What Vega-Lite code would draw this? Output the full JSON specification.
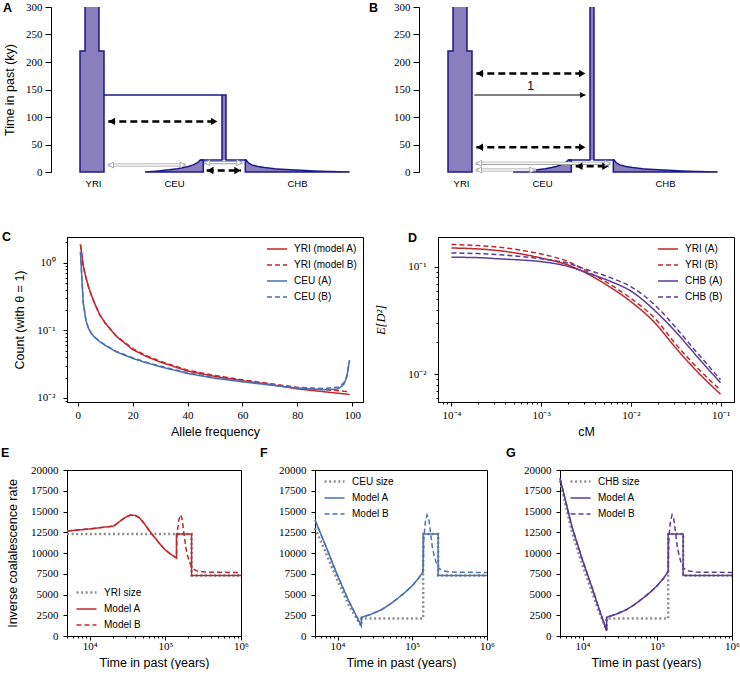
{
  "$schema": "https://vega.github.io/schema/vega-lite/v6.json",
  "background": "white",
  "padding": {"left": 0, "top": 1, "right": 0, "bottom": 0},
  "spacing": 42,
  "config": {
    "font": "Liberation Sans",
    "view": {"stroke": "black", "strokeWidth": 1},
    "axis": {"grid": false, "domainColor": "black", "tickColor": "black", "labelFont": "Liberation Serif", "labelFontSize": 11, "labelColor": "black", "titleFont": "Liberation Sans", "titleFontSize": 12.5, "titleFontWeight": "normal", "titleColor": "black", "tickSize": 4, "labelPadding": 4, "labelFlush": false, "labelOverlap": false, "labelBound": false},
    "legend": {"labelFont": "Liberation Sans", "labelFontSize": 10, "labelColor": "black", "symbolType": "stroke", "symbolSize": 400, "symbolStrokeWidth": 1.6, "rowPadding": -2.7, "labelOffset": 6, "padding": 0},
    "title": {"font": "Liberation Sans", "fontSize": 12.5, "fontWeight": "bold", "anchor": "start", "frame": "group", "color": "black"}
  },
  "resolve": {"scale": {"color": "independent", "strokeDash": "independent", "strokeWidth": "independent", "shape": "independent"}},
  "datasets": {
    "blocks": [
      {"panel": "both", "x0": 29, "x1": 53, "y0": 0, "y1": 220},
      {"panel": "both", "x0": 34, "x1": 48, "y0": 220, "y1": 300},
      {"panel": "A", "x0": 171, "x1": 175, "y0": 22, "y1": 140},
      {"panel": "B", "x0": 171, "x1": 175, "y0": 22, "y1": 300}
    ],
    "pops": [
      {"pop": "CEU", "t": 0, "xl": 94.0, "xr": 152.3},
      {"pop": "CEU", "t": 1, "xl": 101.4, "xr": 152.3},
      {"pop": "CEU", "t": 2, "xl": 107.8, "xr": 152.3},
      {"pop": "CEU", "t": 3, "xl": 113.4, "xr": 152.3},
      {"pop": "CEU", "t": 4, "xl": 118.3, "xr": 152.3},
      {"pop": "CEU", "t": 6, "xl": 126.4, "xr": 152.3},
      {"pop": "CEU", "t": 8, "xl": 132.5, "xr": 152.3},
      {"pop": "CEU", "t": 10, "xl": 137.2, "xr": 152.3},
      {"pop": "CEU", "t": 13, "xl": 142.2, "xr": 152.3},
      {"pop": "CEU", "t": 16, "xl": 145.6, "xr": 152.3},
      {"pop": "CEU", "t": 19, "xl": 147.8, "xr": 152.3},
      {"pop": "CEU", "t": 22, "xl": 149.3, "xr": 152.3},
      {"pop": "CHB", "t": 0, "xl": 194.3, "xr": 298.7},
      {"pop": "CHB", "t": 0.5, "xl": 194.3, "xr": 288.2},
      {"pop": "CHB", "t": 1, "xl": 194.3, "xr": 278.9},
      {"pop": "CHB", "t": 1.5, "xl": 194.3, "xr": 270.4},
      {"pop": "CHB", "t": 2, "xl": 194.3, "xr": 262.8},
      {"pop": "CHB", "t": 3, "xl": 194.3, "xr": 249.7},
      {"pop": "CHB", "t": 4, "xl": 194.3, "xr": 239.2},
      {"pop": "CHB", "t": 5, "xl": 194.3, "xr": 230.6},
      {"pop": "CHB", "t": 6, "xl": 194.3, "xr": 223.7},
      {"pop": "CHB", "t": 8, "xl": 194.3, "xr": 213.6},
      {"pop": "CHB", "t": 10, "xl": 194.3, "xr": 206.9},
      {"pop": "CHB", "t": 13, "xl": 194.3, "xr": 201.0},
      {"pop": "CHB", "t": 16, "xl": 194.3, "xr": 197.8},
      {"pop": "CHB", "t": 19, "xl": 194.3, "xr": 196.2},
      {"pop": "CHB", "t": 22, "xl": 194.3, "xr": 195.3}
    ],
    "outline": [
      {"panel": "both", "path": "yri", "i": 0, "x": 48, "y": 300},
      {"panel": "both", "path": "yri", "i": 1, "x": 48, "y": 220},
      {"panel": "both", "path": "yri", "i": 2, "x": 53, "y": 220},
      {"panel": "both", "path": "yri", "i": 3, "x": 53, "y": 0},
      {"panel": "both", "path": "yri", "i": 4, "x": 29, "y": 0},
      {"panel": "both", "path": "yri", "i": 5, "x": 29, "y": 220},
      {"panel": "both", "path": "yri", "i": 6, "x": 34, "y": 220},
      {"panel": "both", "path": "yri", "i": 7, "x": 34, "y": 300},
      {"panel": "A", "path": "Abranch", "i": 0, "x": 53, "y": 140},
      {"panel": "A", "path": "Abranch", "i": 1, "x": 175, "y": 140},
      {"panel": "A", "path": "Abranch", "i": 2, "x": 175, "y": 22},
      {"panel": "A", "path": "Abranch", "i": 3, "x": 195.3, "y": 22},
      {"panel": "A", "path": "AcolL", "i": 0, "x": 171, "y": 140},
      {"panel": "A", "path": "AcolL", "i": 1, "x": 171, "y": 22},
      {"panel": "A", "path": "AcolL", "i": 2, "x": 149.3, "y": 22},
      {"panel": "B", "path": "Bbranch", "i": 0, "x": 175, "y": 300},
      {"panel": "B", "path": "Bbranch", "i": 1, "x": 175, "y": 22},
      {"panel": "B", "path": "Bbranch", "i": 2, "x": 195.3, "y": 22},
      {"panel": "B", "path": "BcolL", "i": 0, "x": 171, "y": 300},
      {"panel": "B", "path": "BcolL", "i": 1, "x": 171, "y": 22},
      {"panel": "B", "path": "BcolL", "i": 2, "x": 149.3, "y": 22}
    ],
    "arrows": [
      {"panel": "A", "kind": "black", "y": 92, "xa": 57.3, "xb": 166.7},
      {"panel": "A", "kind": "grey", "y": 12.7, "xa": 56.7, "xb": 135},
      {"panel": "A", "kind": "black", "y": 2.7, "xa": 155.7, "xb": 190},
      {"panel": "A", "kind": "grey", "y": 17, "xa": 153, "xb": 191.7},
      {"panel": "B", "kind": "black", "y": 179, "xa": 57.3, "xb": 166.7},
      {"panel": "B", "kind": "solid", "y": 140, "xa": 55.3, "xb": 166.7},
      {"panel": "B", "kind": "black", "y": 45, "xa": 57.3, "xb": 166.7},
      {"panel": "B", "kind": "grey", "y": 15.8, "xa": 56.7, "xb": 191.7},
      {"panel": "B", "kind": "grey", "y": 3.6, "xa": 56.7, "xb": 116.7},
      {"panel": "B", "kind": "black", "y": 10.5, "xa": 156.7, "xb": 190}
    ],
    "heads": [
      {"panel": "A", "kind": "black", "y": 92, "x": 60.8, "dir": "left"},
      {"panel": "A", "kind": "black", "y": 92, "x": 163.2, "dir": "right"},
      {"panel": "A", "kind": "grey", "y": 12.7, "x": 60, "dir": "left"},
      {"panel": "A", "kind": "grey", "y": 12.7, "x": 131.7, "dir": "right"},
      {"panel": "A", "kind": "black", "y": 2.7, "x": 159.2, "dir": "left"},
      {"panel": "A", "kind": "black", "y": 2.7, "x": 186.5, "dir": "right"},
      {"panel": "A", "kind": "grey", "y": 17, "x": 156.3, "dir": "left"},
      {"panel": "A", "kind": "grey", "y": 17, "x": 188.4, "dir": "right"},
      {"panel": "B", "kind": "black", "y": 179, "x": 60.8, "dir": "left"},
      {"panel": "B", "kind": "black", "y": 179, "x": 163.2, "dir": "right"},
      {"panel": "B", "kind": "solid", "y": 140, "x": 163.7, "dir": "right"},
      {"panel": "B", "kind": "black", "y": 45, "x": 60.8, "dir": "left"},
      {"panel": "B", "kind": "black", "y": 45, "x": 163.2, "dir": "right"},
      {"panel": "B", "kind": "grey", "y": 15.8, "x": 60, "dir": "left"},
      {"panel": "B", "kind": "grey", "y": 15.8, "x": 188.4, "dir": "right"},
      {"panel": "B", "kind": "grey", "y": 3.6, "x": 60, "dir": "left"},
      {"panel": "B", "kind": "grey", "y": 3.6, "x": 113.4, "dir": "right"},
      {"panel": "B", "kind": "black", "y": 10.5, "x": 160.2, "dir": "left"},
      {"panel": "B", "kind": "black", "y": 10.5, "x": 186.5, "dir": "right"}
    ],
    "notes": [
      {"panel": "B", "x": 111.7, "y": 156, "text": "1"}
    ],
    "sfs": [
      {"s": "YRI (model A)", "f": 1, "c": 1.86}, {"s": "YRI (model A)", "f": 2, "c": 0.9}, {"s": "YRI (model A)", "f": 3, "c": 0.6}, {"s": "YRI (model A)", "f": 4, "c": 0.43}, {"s": "YRI (model A)", "f": 5, "c": 0.33}, {"s": "YRI (model A)", "f": 6, "c": 0.26}, {"s": "YRI (model A)", "f": 8, "c": 0.17}, {"s": "YRI (model A)", "f": 10, "c": 0.128}, {"s": "YRI (model A)", "f": 14, "c": 0.082}, {"s": "YRI (model A)", "f": 20, "c": 0.052}, {"s": "YRI (model A)", "f": 25, "c": 0.041}, {"s": "YRI (model A)", "f": 30, "c": 0.034}, {"s": "YRI (model A)", "f": 40, "c": 0.025}, {"s": "YRI (model A)", "f": 50, "c": 0.0208}, {"s": "YRI (model A)", "f": 60, "c": 0.018}, {"s": "YRI (model A)", "f": 70, "c": 0.0158}, {"s": "YRI (model A)", "f": 80, "c": 0.0136}, {"s": "YRI (model A)", "f": 90, "c": 0.0123}, {"s": "YRI (model A)", "f": 95, "c": 0.0117}, {"s": "YRI (model A)", "f": 97, "c": 0.0115}, {"s": "YRI (model A)", "f": 98, "c": 0.0114}, {"s": "YRI (model A)", "f": 99, "c": 0.0112},
      {"s": "YRI (model B)", "f": 1, "c": 1.86}, {"s": "YRI (model B)", "f": 2, "c": 0.9}, {"s": "YRI (model B)", "f": 3, "c": 0.6}, {"s": "YRI (model B)", "f": 4, "c": 0.43}, {"s": "YRI (model B)", "f": 5, "c": 0.33}, {"s": "YRI (model B)", "f": 6, "c": 0.26}, {"s": "YRI (model B)", "f": 8, "c": 0.17}, {"s": "YRI (model B)", "f": 10, "c": 0.129}, {"s": "YRI (model B)", "f": 14, "c": 0.083}, {"s": "YRI (model B)", "f": 20, "c": 0.0536}, {"s": "YRI (model B)", "f": 25, "c": 0.0422}, {"s": "YRI (model B)", "f": 30, "c": 0.035}, {"s": "YRI (model B)", "f": 40, "c": 0.0258}, {"s": "YRI (model B)", "f": 50, "c": 0.0214}, {"s": "YRI (model B)", "f": 60, "c": 0.0185}, {"s": "YRI (model B)", "f": 70, "c": 0.0163}, {"s": "YRI (model B)", "f": 80, "c": 0.0143}, {"s": "YRI (model B)", "f": 90, "c": 0.0132}, {"s": "YRI (model B)", "f": 95, "c": 0.0128}, {"s": "YRI (model B)", "f": 97, "c": 0.0125}, {"s": "YRI (model B)", "f": 98, "c": 0.0124}, {"s": "YRI (model B)", "f": 99, "c": 0.0122},
      {"s": "CEU (A)", "f": 1, "c": 1.45}, {"s": "CEU (A)", "f": 2, "c": 0.26}, {"s": "CEU (A)", "f": 3, "c": 0.14}, {"s": "CEU (A)", "f": 4, "c": 0.105}, {"s": "CEU (A)", "f": 5, "c": 0.09}, {"s": "CEU (A)", "f": 6, "c": 0.08}, {"s": "CEU (A)", "f": 8, "c": 0.068}, {"s": "CEU (A)", "f": 10, "c": 0.06}, {"s": "CEU (A)", "f": 14, "c": 0.048}, {"s": "CEU (A)", "f": 20, "c": 0.0385}, {"s": "CEU (A)", "f": 25, "c": 0.033}, {"s": "CEU (A)", "f": 30, "c": 0.029}, {"s": "CEU (A)", "f": 40, "c": 0.023}, {"s": "CEU (A)", "f": 50, "c": 0.0195}, {"s": "CEU (A)", "f": 60, "c": 0.0173}, {"s": "CEU (A)", "f": 70, "c": 0.0155}, {"s": "CEU (A)", "f": 80, "c": 0.014}, {"s": "CEU (A)", "f": 90, "c": 0.0132}, {"s": "CEU (A)", "f": 95, "c": 0.0136}, {"s": "CEU (A)", "f": 97, "c": 0.016}, {"s": "CEU (A)", "f": 98, "c": 0.0205}, {"s": "CEU (A)", "f": 99, "c": 0.036},
      {"s": "CEU (B)", "f": 1, "c": 1.45}, {"s": "CEU (B)", "f": 2, "c": 0.26}, {"s": "CEU (B)", "f": 3, "c": 0.14}, {"s": "CEU (B)", "f": 4, "c": 0.105}, {"s": "CEU (B)", "f": 5, "c": 0.09}, {"s": "CEU (B)", "f": 6, "c": 0.08}, {"s": "CEU (B)", "f": 8, "c": 0.069}, {"s": "CEU (B)", "f": 10, "c": 0.061}, {"s": "CEU (B)", "f": 14, "c": 0.049}, {"s": "CEU (B)", "f": 20, "c": 0.0393}, {"s": "CEU (B)", "f": 25, "c": 0.0337}, {"s": "CEU (B)", "f": 30, "c": 0.0296}, {"s": "CEU (B)", "f": 40, "c": 0.0235}, {"s": "CEU (B)", "f": 50, "c": 0.0199}, {"s": "CEU (B)", "f": 60, "c": 0.0176}, {"s": "CEU (B)", "f": 70, "c": 0.0158}, {"s": "CEU (B)", "f": 80, "c": 0.0143}, {"s": "CEU (B)", "f": 90, "c": 0.0138}, {"s": "CEU (B)", "f": 95, "c": 0.0145}, {"s": "CEU (B)", "f": 97, "c": 0.0168}, {"s": "CEU (B)", "f": 98, "c": 0.021}, {"s": "CEU (B)", "f": 99, "c": 0.036}
    ],
    "ld": [
      {"s": "YRI (A)", "cm": 0.0001, "d": 0.15}, {"s": "YRI (A)", "cm": 0.0002, "d": 0.147}, {"s": "YRI (A)", "cm": 0.00033, "d": 0.142}, {"s": "YRI (A)", "cm": 0.0006, "d": 0.132}, {"s": "YRI (A)", "cm": 0.001, "d": 0.121}, {"s": "YRI (A)", "cm": 0.002, "d": 0.104}, {"s": "YRI (A)", "cm": 0.0034, "d": 0.085}, {"s": "YRI (A)", "cm": 0.006, "d": 0.064}, {"s": "YRI (A)", "cm": 0.01, "d": 0.0475}, {"s": "YRI (A)", "cm": 0.0186, "d": 0.03}, {"s": "YRI (A)", "cm": 0.0316, "d": 0.0176}, {"s": "YRI (A)", "cm": 0.056, "d": 0.0104}, {"s": "YRI (A)", "cm": 0.1, "d": 0.0065},
      {"s": "YRI (B)", "cm": 0.0001, "d": 0.162}, {"s": "YRI (B)", "cm": 0.0002, "d": 0.158}, {"s": "YRI (B)", "cm": 0.00033, "d": 0.153}, {"s": "YRI (B)", "cm": 0.0006, "d": 0.143}, {"s": "YRI (B)", "cm": 0.001, "d": 0.132}, {"s": "YRI (B)", "cm": 0.002, "d": 0.112}, {"s": "YRI (B)", "cm": 0.0034, "d": 0.089}, {"s": "YRI (B)", "cm": 0.006, "d": 0.068}, {"s": "YRI (B)", "cm": 0.01, "d": 0.051}, {"s": "YRI (B)", "cm": 0.0186, "d": 0.033}, {"s": "YRI (B)", "cm": 0.0316, "d": 0.0191}, {"s": "YRI (B)", "cm": 0.056, "d": 0.0113}, {"s": "YRI (B)", "cm": 0.1, "d": 0.0071},
      {"s": "CHB (A)", "cm": 0.0001, "d": 0.123}, {"s": "CHB (A)", "cm": 0.0002, "d": 0.122}, {"s": "CHB (A)", "cm": 0.00033, "d": 0.119}, {"s": "CHB (A)", "cm": 0.0006, "d": 0.116}, {"s": "CHB (A)", "cm": 0.001, "d": 0.112}, {"s": "CHB (A)", "cm": 0.002, "d": 0.101}, {"s": "CHB (A)", "cm": 0.0034, "d": 0.087}, {"s": "CHB (A)", "cm": 0.006, "d": 0.073}, {"s": "CHB (A)", "cm": 0.01, "d": 0.0596}, {"s": "CHB (A)", "cm": 0.0186, "d": 0.039}, {"s": "CHB (A)", "cm": 0.0316, "d": 0.0248}, {"s": "CHB (A)", "cm": 0.056, "d": 0.0143}, {"s": "CHB (A)", "cm": 0.1, "d": 0.0083},
      {"s": "CHB (B)", "cm": 0.0001, "d": 0.135}, {"s": "CHB (B)", "cm": 0.0002, "d": 0.133}, {"s": "CHB (B)", "cm": 0.00033, "d": 0.13}, {"s": "CHB (B)", "cm": 0.0006, "d": 0.125}, {"s": "CHB (B)", "cm": 0.001, "d": 0.119}, {"s": "CHB (B)", "cm": 0.002, "d": 0.108}, {"s": "CHB (B)", "cm": 0.0034, "d": 0.093}, {"s": "CHB (B)", "cm": 0.006, "d": 0.079}, {"s": "CHB (B)", "cm": 0.01, "d": 0.0654}, {"s": "CHB (B)", "cm": 0.0186, "d": 0.044}, {"s": "CHB (B)", "cm": 0.0316, "d": 0.0272}, {"s": "CHB (B)", "cm": 0.056, "d": 0.0155}, {"s": "CHB (B)", "cm": 0.1, "d": 0.0089}
    ],
    "icr": [
      {"p": "E", "s": "YRI size", "i": 0, "t": 5000, "v": 12300}, {"p": "E", "s": "YRI size", "i": 1, "t": 222000, "v": 12300}, {"p": "E", "s": "YRI size", "i": 2, "t": 222000, "v": 7300}, {"p": "E", "s": "YRI size", "i": 3, "t": 1000000, "v": 7300},
      {"p": "E", "s": "Model A", "i": 0, "t": 5000, "v": 12650}, {"p": "E", "s": "Model A", "i": 1, "t": 10000, "v": 12900}, {"p": "E", "s": "Model A", "i": 2, "t": 20800, "v": 13250}, {"p": "E", "s": "Model A", "i": 3, "t": 24000, "v": 13700}, {"p": "E", "s": "Model A", "i": 4, "t": 27000, "v": 14050}, {"p": "E", "s": "Model A", "i": 5, "t": 31000, "v": 14400}, {"p": "E", "s": "Model A", "i": 6, "t": 35000, "v": 14580}, {"p": "E", "s": "Model A", "i": 7, "t": 40000, "v": 14520}, {"p": "E", "s": "Model A", "i": 8, "t": 44600, "v": 14300}, {"p": "E", "s": "Model A", "i": 9, "t": 52000, "v": 13600}, {"p": "E", "s": "Model A", "i": 10, "t": 60500, "v": 12770}, {"p": "E", "s": "Model A", "i": 11, "t": 70000, "v": 12000}, {"p": "E", "s": "Model A", "i": 12, "t": 78000, "v": 11490}, {"p": "E", "s": "Model A", "i": 13, "t": 90000, "v": 10800}, {"p": "E", "s": "Model A", "i": 14, "t": 100000, "v": 10360}, {"p": "E", "s": "Model A", "i": 15, "t": 120000, "v": 9800}, {"p": "E", "s": "Model A", "i": 16, "t": 140000, "v": 9400}, {"p": "E", "s": "Model A", "i": 17, "t": 140000, "v": 12300}, {"p": "E", "s": "Model A", "i": 18, "t": 222000, "v": 12300}, {"p": "E", "s": "Model A", "i": 19, "t": 222000, "v": 7300}, {"p": "E", "s": "Model A", "i": 20, "t": 1000000, "v": 7300},
      {"p": "E", "s": "Model B", "i": 0, "t": 5000, "v": 12650}, {"p": "E", "s": "Model B", "i": 1, "t": 10000, "v": 12900}, {"p": "E", "s": "Model B", "i": 2, "t": 20800, "v": 13250}, {"p": "E", "s": "Model B", "i": 3, "t": 24000, "v": 13700}, {"p": "E", "s": "Model B", "i": 4, "t": 27000, "v": 14050}, {"p": "E", "s": "Model B", "i": 5, "t": 31000, "v": 14400}, {"p": "E", "s": "Model B", "i": 6, "t": 35000, "v": 14580}, {"p": "E", "s": "Model B", "i": 7, "t": 40000, "v": 14520}, {"p": "E", "s": "Model B", "i": 8, "t": 44600, "v": 14300}, {"p": "E", "s": "Model B", "i": 9, "t": 52000, "v": 13600}, {"p": "E", "s": "Model B", "i": 10, "t": 60500, "v": 12770}, {"p": "E", "s": "Model B", "i": 11, "t": 70000, "v": 12000}, {"p": "E", "s": "Model B", "i": 12, "t": 78000, "v": 11490}, {"p": "E", "s": "Model B", "i": 13, "t": 90000, "v": 10800}, {"p": "E", "s": "Model B", "i": 14, "t": 100000, "v": 10360}, {"p": "E", "s": "Model B", "i": 15, "t": 120000, "v": 9800}, {"p": "E", "s": "Model B", "i": 16, "t": 140000, "v": 9400}, {"p": "E", "s": "Model B", "i": 17, "t": 143000, "v": 12400}, {"p": "E", "s": "Model B", "i": 18, "t": 150000, "v": 13900}, {"p": "E", "s": "Model B", "i": 19, "t": 158000, "v": 14600}, {"p": "E", "s": "Model B", "i": 20, "t": 166000, "v": 14200}, {"p": "E", "s": "Model B", "i": 21, "t": 176000, "v": 12400}, {"p": "E", "s": "Model B", "i": 22, "t": 185000, "v": 10800}, {"p": "E", "s": "Model B", "i": 23, "t": 196000, "v": 9700}, {"p": "E", "s": "Model B", "i": 24, "t": 207000, "v": 8950}, {"p": "E", "s": "Model B", "i": 25, "t": 227000, "v": 8150}, {"p": "E", "s": "Model B", "i": 26, "t": 264000, "v": 7830}, {"p": "E", "s": "Model B", "i": 27, "t": 330000, "v": 7700}, {"p": "E", "s": "Model B", "i": 28, "t": 1000000, "v": 7650},
      {"p": "F", "s": "CEU size", "i": 0, "t": 5000, "v": 13000}, {"p": "F", "s": "CEU size", "i": 1, "t": 7000, "v": 10000}, {"p": "F", "s": "CEU size", "i": 2, "t": 10000, "v": 6700}, {"p": "F", "s": "CEU size", "i": 3, "t": 14000, "v": 3800}, {"p": "F", "s": "CEU size", "i": 4, "t": 17000, "v": 2500}, {"p": "F", "s": "CEU size", "i": 5, "t": 20800, "v": 1200}, {"p": "F", "s": "CEU size", "i": 6, "t": 20800, "v": 2100}, {"p": "F", "s": "CEU size", "i": 7, "t": 140000, "v": 2100}, {"p": "F", "s": "CEU size", "i": 8, "t": 140000, "v": 12300}, {"p": "F", "s": "CEU size", "i": 9, "t": 222000, "v": 12300}, {"p": "F", "s": "CEU size", "i": 10, "t": 222000, "v": 7300}, {"p": "F", "s": "CEU size", "i": 11, "t": 1000000, "v": 7300},
      {"p": "F", "s": "Model A", "i": 0, "t": 5000, "v": 13980}, {"p": "F", "s": "Model A", "i": 1, "t": 7000, "v": 10800}, {"p": "F", "s": "Model A", "i": 2, "t": 10000, "v": 7300}, {"p": "F", "s": "Model A", "i": 3, "t": 14000, "v": 4300}, {"p": "F", "s": "Model A", "i": 4, "t": 17000, "v": 2800}, {"p": "F", "s": "Model A", "i": 5, "t": 20800, "v": 1250}, {"p": "F", "s": "Model A", "i": 6, "t": 21000, "v": 2250}, {"p": "F", "s": "Model A", "i": 7, "t": 28000, "v": 2620}, {"p": "F", "s": "Model A", "i": 8, "t": 38000, "v": 3130}, {"p": "F", "s": "Model A", "i": 9, "t": 50000, "v": 3800}, {"p": "F", "s": "Model A", "i": 10, "t": 64000, "v": 4540}, {"p": "F", "s": "Model A", "i": 11, "t": 80000, "v": 5250}, {"p": "F", "s": "Model A", "i": 12, "t": 100000, "v": 6060}, {"p": "F", "s": "Model A", "i": 13, "t": 120000, "v": 6900}, {"p": "F", "s": "Model A", "i": 14, "t": 140000, "v": 7750}, {"p": "F", "s": "Model A", "i": 15, "t": 140000, "v": 12300}, {"p": "F", "s": "Model A", "i": 16, "t": 222000, "v": 12300}, {"p": "F", "s": "Model A", "i": 17, "t": 222000, "v": 7300}, {"p": "F", "s": "Model A", "i": 18, "t": 1000000, "v": 7300},
      {"p": "F", "s": "Model B", "i": 0, "t": 5000, "v": 13980}, {"p": "F", "s": "Model B", "i": 1, "t": 7000, "v": 10800}, {"p": "F", "s": "Model B", "i": 2, "t": 10000, "v": 7300}, {"p": "F", "s": "Model B", "i": 3, "t": 14000, "v": 4300}, {"p": "F", "s": "Model B", "i": 4, "t": 17000, "v": 2800}, {"p": "F", "s": "Model B", "i": 5, "t": 20800, "v": 1250}, {"p": "F", "s": "Model B", "i": 6, "t": 21000, "v": 2250}, {"p": "F", "s": "Model B", "i": 7, "t": 28000, "v": 2620}, {"p": "F", "s": "Model B", "i": 8, "t": 38000, "v": 3130}, {"p": "F", "s": "Model B", "i": 9, "t": 50000, "v": 3800}, {"p": "F", "s": "Model B", "i": 10, "t": 64000, "v": 4540}, {"p": "F", "s": "Model B", "i": 11, "t": 80000, "v": 5250}, {"p": "F", "s": "Model B", "i": 12, "t": 100000, "v": 6060}, {"p": "F", "s": "Model B", "i": 13, "t": 120000, "v": 6900}, {"p": "F", "s": "Model B", "i": 14, "t": 140000, "v": 7750}, {"p": "F", "s": "Model B", "i": 15, "t": 143000, "v": 11800}, {"p": "F", "s": "Model B", "i": 16, "t": 150000, "v": 13800}, {"p": "F", "s": "Model B", "i": 17, "t": 158000, "v": 14600}, {"p": "F", "s": "Model B", "i": 18, "t": 166000, "v": 14200}, {"p": "F", "s": "Model B", "i": 19, "t": 176000, "v": 12400}, {"p": "F", "s": "Model B", "i": 20, "t": 185000, "v": 10800}, {"p": "F", "s": "Model B", "i": 21, "t": 196000, "v": 9700}, {"p": "F", "s": "Model B", "i": 22, "t": 207000, "v": 8950}, {"p": "F", "s": "Model B", "i": 23, "t": 227000, "v": 8150}, {"p": "F", "s": "Model B", "i": 24, "t": 264000, "v": 7830}, {"p": "F", "s": "Model B", "i": 25, "t": 330000, "v": 7700}, {"p": "F", "s": "Model B", "i": 26, "t": 1000000, "v": 7650},
      {"p": "G", "s": "CHB size", "i": 0, "t": 5000, "v": 18700}, {"p": "G", "s": "CHB size", "i": 1, "t": 7220, "v": 12500}, {"p": "G", "s": "CHB size", "i": 2, "t": 10000, "v": 8500}, {"p": "G", "s": "CHB size", "i": 3, "t": 13300, "v": 5400}, {"p": "G", "s": "CHB size", "i": 4, "t": 16300, "v": 3100}, {"p": "G", "s": "CHB size", "i": 5, "t": 21000, "v": 720}, {"p": "G", "s": "CHB size", "i": 6, "t": 21000, "v": 2100}, {"p": "G", "s": "CHB size", "i": 7, "t": 140000, "v": 2100}, {"p": "G", "s": "CHB size", "i": 8, "t": 140000, "v": 12300}, {"p": "G", "s": "CHB size", "i": 9, "t": 222000, "v": 12300}, {"p": "G", "s": "CHB size", "i": 10, "t": 222000, "v": 7300}, {"p": "G", "s": "CHB size", "i": 11, "t": 1000000, "v": 7300},
      {"p": "G", "s": "Model A", "i": 0, "t": 5000, "v": 19000}, {"p": "G", "s": "Model A", "i": 1, "t": 7220, "v": 13170}, {"p": "G", "s": "Model A", "i": 2, "t": 10000, "v": 9160}, {"p": "G", "s": "Model A", "i": 3, "t": 13300, "v": 5940}, {"p": "G", "s": "Model A", "i": 4, "t": 16300, "v": 3530}, {"p": "G", "s": "Model A", "i": 5, "t": 21000, "v": 640}, {"p": "G", "s": "Model A", "i": 6, "t": 21000, "v": 2250}, {"p": "G", "s": "Model A", "i": 7, "t": 28000, "v": 2620}, {"p": "G", "s": "Model A", "i": 8, "t": 38000, "v": 3130}, {"p": "G", "s": "Model A", "i": 9, "t": 50000, "v": 3800}, {"p": "G", "s": "Model A", "i": 10, "t": 64000, "v": 4540}, {"p": "G", "s": "Model A", "i": 11, "t": 80000, "v": 5250}, {"p": "G", "s": "Model A", "i": 12, "t": 100000, "v": 6060}, {"p": "G", "s": "Model A", "i": 13, "t": 120000, "v": 6900}, {"p": "G", "s": "Model A", "i": 14, "t": 140000, "v": 7750}, {"p": "G", "s": "Model A", "i": 15, "t": 140000, "v": 12300}, {"p": "G", "s": "Model A", "i": 16, "t": 222000, "v": 12300}, {"p": "G", "s": "Model A", "i": 17, "t": 222000, "v": 7300}, {"p": "G", "s": "Model A", "i": 18, "t": 1000000, "v": 7300},
      {"p": "G", "s": "Model B", "i": 0, "t": 5000, "v": 19000}, {"p": "G", "s": "Model B", "i": 1, "t": 7220, "v": 13170}, {"p": "G", "s": "Model B", "i": 2, "t": 10000, "v": 9160}, {"p": "G", "s": "Model B", "i": 3, "t": 13300, "v": 5940}, {"p": "G", "s": "Model B", "i": 4, "t": 16300, "v": 3530}, {"p": "G", "s": "Model B", "i": 5, "t": 21000, "v": 640}, {"p": "G", "s": "Model B", "i": 6, "t": 21000, "v": 2250}, {"p": "G", "s": "Model B", "i": 7, "t": 28000, "v": 2620}, {"p": "G", "s": "Model B", "i": 8, "t": 38000, "v": 3130}, {"p": "G", "s": "Model B", "i": 9, "t": 50000, "v": 3800}, {"p": "G", "s": "Model B", "i": 10, "t": 64000, "v": 4540}, {"p": "G", "s": "Model B", "i": 11, "t": 80000, "v": 5250}, {"p": "G", "s": "Model B", "i": 12, "t": 100000, "v": 6060}, {"p": "G", "s": "Model B", "i": 13, "t": 120000, "v": 6900}, {"p": "G", "s": "Model B", "i": 14, "t": 140000, "v": 7750}, {"p": "G", "s": "Model B", "i": 15, "t": 143000, "v": 11800}, {"p": "G", "s": "Model B", "i": 16, "t": 150000, "v": 13800}, {"p": "G", "s": "Model B", "i": 17, "t": 158000, "v": 14600}, {"p": "G", "s": "Model B", "i": 18, "t": 166000, "v": 14200}, {"p": "G", "s": "Model B", "i": 19, "t": 176000, "v": 12400}, {"p": "G", "s": "Model B", "i": 20, "t": 185000, "v": 10800}, {"p": "G", "s": "Model B", "i": 21, "t": 196000, "v": 9700}, {"p": "G", "s": "Model B", "i": 22, "t": 207000, "v": 8950}, {"p": "G", "s": "Model B", "i": 23, "t": 227000, "v": 8150}, {"p": "G", "s": "Model B", "i": 24, "t": 264000, "v": 7830}, {"p": "G", "s": "Model B", "i": 25, "t": 330000, "v": 7700}, {"p": "G", "s": "Model B", "i": 26, "t": 1000000, "v": 7650}
    ]
  },
  "vconcat": [
    {
      "hconcat": [
        {
          "width": 284, "height": 165,
          "view": {"stroke": null},
          "title": {"text": "A", "dx": -64, "offset": -13},
          "layer": [
            {
              "data": {"name": "blocks"},
              "transform": [{"filter": "datum.panel == 'A' || datum.panel == 'both'"}],
              "mark": {"type": "rect", "fill": "#8a7fbd"},
              "encoding": {
                "x": {"field": "x0", "type": "quantitative", "scale": {"domain": [16, 300], "nice": false, "zero": false}, "axis": {"values": [42, 123, 246], "labelExpr": "datum.value < 80 ? 'YRI' : datum.value < 200 ? 'CEU' : 'CHB'", "domain": false, "ticks": false, "labelFont": "Liberation Sans", "labelFontSize": 9.5, "labelPadding": 6, "title": null}},
                "x2": {"field": "x1"},
                "y": {"field": "y0", "type": "quantitative", "scale": {"domain": [0, 300], "nice": false, "zero": false}, "axis": {"values": [0, 50, 100, 150, 200, 250, 300], "offset": 16, "tickSize": 6, "labelPadding": 3, "title": "Time in past (ky)", "titlePadding": 9}},
                "y2": {"field": "y1"}
              }
            },
            {
              "data": {"name": "pops"},
              "mark": {"type": "area", "orient": "horizontal", "fill": "#8a7fbd", "stroke": "#1c1a8a", "strokeWidth": 1.5},
              "encoding": {
                "y": {"field": "t", "type": "quantitative", "scale": {"domain": [0, 300], "nice": false, "zero": false}, "axis": {"values": [0, 50, 100, 150, 200, 250, 300], "offset": 16, "tickSize": 6, "labelPadding": 3, "title": "Time in past (ky)", "titlePadding": 9}},
                "x": {"field": "xl", "type": "quantitative", "scale": {"domain": [16, 300], "nice": false, "zero": false}, "axis": {"values": [42, 123, 246], "labelExpr": "datum.value < 80 ? 'YRI' : datum.value < 200 ? 'CEU' : 'CHB'", "domain": false, "ticks": false, "labelFont": "Liberation Sans", "labelFontSize": 9.5, "labelPadding": 6, "title": null}},
                "x2": {"field": "xr"},
                "detail": {"field": "pop"}
              }
            },
            {
              "data": {"name": "outline"},
              "transform": [{"filter": "datum.panel == 'A' || datum.panel == 'both'"}],
              "mark": {"type": "line", "stroke": "#1c1a8a", "strokeWidth": 1.5},
              "encoding": {
                "x": {"field": "x", "type": "quantitative", "scale": {"domain": [16, 300], "nice": false, "zero": false}, "axis": {"values": [42, 123, 246], "labelExpr": "datum.value < 80 ? 'YRI' : datum.value < 200 ? 'CEU' : 'CHB'", "domain": false, "ticks": false, "labelFont": "Liberation Sans", "labelFontSize": 9.5, "labelPadding": 6, "title": null}},
                "y": {"field": "y", "type": "quantitative", "scale": {"domain": [0, 300], "nice": false, "zero": false}, "axis": {"values": [0, 50, 100, 150, 200, 250, 300], "offset": 16, "tickSize": 6, "labelPadding": 3, "title": "Time in past (ky)", "titlePadding": 9}},
                "detail": {"field": "path"},
                "order": {"field": "i"}
              }
            },
            {
              "data": {"name": "arrows"},
              "transform": [{"filter": "datum.panel == 'A' && datum.kind == 'grey'"}],
              "mark": {"type": "rule", "stroke": "#a0a0a0", "strokeWidth": 3.2},
              "encoding": {
                "x": {"field": "xa", "type": "quantitative", "scale": {"domain": [16, 300], "nice": false, "zero": false}, "axis": {"values": [42, 123, 246], "labelExpr": "datum.value < 80 ? 'YRI' : datum.value < 200 ? 'CEU' : 'CHB'", "domain": false, "ticks": false, "labelFont": "Liberation Sans", "labelFontSize": 9.5, "labelPadding": 6, "title": null}},
                "x2": {"field": "xb"},
                "y": {"field": "y", "type": "quantitative", "scale": {"domain": [0, 300], "nice": false, "zero": false}, "axis": {"values": [0, 50, 100, 150, 200, 250, 300], "offset": 16, "tickSize": 6, "labelPadding": 3, "title": "Time in past (ky)", "titlePadding": 9}}
              }
            },
            {
              "data": {"name": "arrows"},
              "transform": [{"filter": "datum.panel == 'A' && datum.kind == 'grey'"}],
              "mark": {"type": "rule", "stroke": "white", "strokeWidth": 1.4},
              "encoding": {
                "x": {"field": "xa", "type": "quantitative", "scale": {"domain": [16, 300], "nice": false, "zero": false}, "axis": {"values": [42, 123, 246], "labelExpr": "datum.value < 80 ? 'YRI' : datum.value < 200 ? 'CEU' : 'CHB'", "domain": false, "ticks": false, "labelFont": "Liberation Sans", "labelFontSize": 9.5, "labelPadding": 6, "title": null}},
                "x2": {"field": "xb"},
                "y": {"field": "y", "type": "quantitative", "scale": {"domain": [0, 300], "nice": false, "zero": false}, "axis": {"values": [0, 50, 100, 150, 200, 250, 300], "offset": 16, "tickSize": 6, "labelPadding": 3, "title": "Time in past (ky)", "titlePadding": 9}}
              }
            },
            {
              "data": {"name": "arrows"},
              "transform": [{"filter": "datum.panel == 'A' && datum.kind == 'black'"}],
              "mark": {"type": "rule", "stroke": "black", "strokeWidth": 2.5, "strokeDash": [7, 4]},
              "encoding": {
                "x": {"field": "xa", "type": "quantitative", "scale": {"domain": [16, 300], "nice": false, "zero": false}, "axis": {"values": [42, 123, 246], "labelExpr": "datum.value < 80 ? 'YRI' : datum.value < 200 ? 'CEU' : 'CHB'", "domain": false, "ticks": false, "labelFont": "Liberation Sans", "labelFontSize": 9.5, "labelPadding": 6, "title": null}},
                "x2": {"field": "xb"},
                "y": {"field": "y", "type": "quantitative", "scale": {"domain": [0, 300], "nice": false, "zero": false}, "axis": {"values": [0, 50, 100, 150, 200, 250, 300], "offset": 16, "tickSize": 6, "labelPadding": 3, "title": "Time in past (ky)", "titlePadding": 9}}
              }
            },
            {
              "data": {"name": "heads"},
              "transform": [{"filter": "datum.panel == 'A' && datum.kind == 'black'"}],
              "mark": {"type": "point", "filled": true, "fill": "black", "size": 55, "opacity": 1},
              "encoding": {
                "x": {"field": "x", "type": "quantitative", "scale": {"domain": [16, 300], "nice": false, "zero": false}, "axis": {"values": [42, 123, 246], "labelExpr": "datum.value < 80 ? 'YRI' : datum.value < 200 ? 'CEU' : 'CHB'", "domain": false, "ticks": false, "labelFont": "Liberation Sans", "labelFontSize": 9.5, "labelPadding": 6, "title": null}},
                "y": {"field": "y", "type": "quantitative", "scale": {"domain": [0, 300], "nice": false, "zero": false}, "axis": {"values": [0, 50, 100, 150, 200, 250, 300], "offset": 16, "tickSize": 6, "labelPadding": 3, "title": "Time in past (ky)", "titlePadding": 9}},
                "shape": {"field": "dir", "type": "nominal", "scale": {"domain": ["left", "right"], "range": ["triangle-left", "triangle-right"]}, "legend": null}
              }
            },
            {
              "data": {"name": "heads"},
              "transform": [{"filter": "datum.panel == 'A' && datum.kind == 'grey'"}],
              "mark": {"type": "point", "filled": true, "fill": "white", "stroke": "#999999", "strokeWidth": 0.8, "size": 35, "opacity": 1},
              "encoding": {
                "x": {"field": "x", "type": "quantitative", "scale": {"domain": [16, 300], "nice": false, "zero": false}, "axis": {"values": [42, 123, 246], "labelExpr": "datum.value < 80 ? 'YRI' : datum.value < 200 ? 'CEU' : 'CHB'", "domain": false, "ticks": false, "labelFont": "Liberation Sans", "labelFontSize": 9.5, "labelPadding": 6, "title": null}},
                "y": {"field": "y", "type": "quantitative", "scale": {"domain": [0, 300], "nice": false, "zero": false}, "axis": {"values": [0, 50, 100, 150, 200, 250, 300], "offset": 16, "tickSize": 6, "labelPadding": 3, "title": "Time in past (ky)", "titlePadding": 9}},
                "shape": {"field": "dir", "type": "nominal", "scale": {"domain": ["left", "right"], "range": ["triangle-left", "triangle-right"]}, "legend": null}
              }
            }
          ]
        },
        {
          "width": 300, "height": 165,
          "view": {"stroke": null},
          "title": {"text": "B", "dx": -50, "offset": -13},
          "layer": [
            {
              "data": {"name": "blocks"},
              "transform": [{"filter": "datum.panel == 'B' || datum.panel == 'both'"}],
              "mark": {"type": "rect", "fill": "#8a7fbd"},
              "encoding": {
                "x": {"field": "x0", "type": "quantitative", "scale": {"domain": [0, 300], "nice": false, "zero": false}, "axis": {"values": [42, 123, 246], "labelExpr": "datum.value < 80 ? 'YRI' : datum.value < 200 ? 'CEU' : 'CHB'", "domain": false, "ticks": false, "labelFont": "Liberation Sans", "labelFontSize": 9.5, "labelPadding": 6, "title": null}},
                "x2": {"field": "x1"},
                "y": {"field": "y0", "type": "quantitative", "scale": {"domain": [0, 300], "nice": false, "zero": false}, "axis": {"values": [0, 50, 100, 150, 200, 250, 300], "tickSize": 6, "labelPadding": 3, "title": null}},
                "y2": {"field": "y1"}
              }
            },
            {
              "data": {"name": "pops"},
              "mark": {"type": "area", "orient": "horizontal", "fill": "#8a7fbd", "stroke": "#1c1a8a", "strokeWidth": 1.5},
              "encoding": {
                "y": {"field": "t", "type": "quantitative", "scale": {"domain": [0, 300], "nice": false, "zero": false}, "axis": {"values": [0, 50, 100, 150, 200, 250, 300], "tickSize": 6, "labelPadding": 3, "title": null}},
                "x": {"field": "xl", "type": "quantitative", "scale": {"domain": [0, 300], "nice": false, "zero": false}, "axis": {"values": [42, 123, 246], "labelExpr": "datum.value < 80 ? 'YRI' : datum.value < 200 ? 'CEU' : 'CHB'", "domain": false, "ticks": false, "labelFont": "Liberation Sans", "labelFontSize": 9.5, "labelPadding": 6, "title": null}},
                "x2": {"field": "xr"},
                "detail": {"field": "pop"}
              }
            },
            {
              "data": {"name": "outline"},
              "transform": [{"filter": "datum.panel == 'B' || datum.panel == 'both'"}],
              "mark": {"type": "line", "stroke": "#1c1a8a", "strokeWidth": 1.5},
              "encoding": {
                "x": {"field": "x", "type": "quantitative", "scale": {"domain": [0, 300], "nice": false, "zero": false}, "axis": {"values": [42, 123, 246], "labelExpr": "datum.value < 80 ? 'YRI' : datum.value < 200 ? 'CEU' : 'CHB'", "domain": false, "ticks": false, "labelFont": "Liberation Sans", "labelFontSize": 9.5, "labelPadding": 6, "title": null}},
                "y": {"field": "y", "type": "quantitative", "scale": {"domain": [0, 300], "nice": false, "zero": false}, "axis": {"values": [0, 50, 100, 150, 200, 250, 300], "tickSize": 6, "labelPadding": 3, "title": null}},
                "detail": {"field": "path"},
                "order": {"field": "i"}
              }
            },
            {
              "data": {"name": "arrows"},
              "transform": [{"filter": "datum.panel == 'B' && datum.kind == 'grey'"}],
              "mark": {"type": "rule", "stroke": "#a0a0a0", "strokeWidth": 3.2},
              "encoding": {
                "x": {"field": "xa", "type": "quantitative", "scale": {"domain": [0, 300], "nice": false, "zero": false}, "axis": {"values": [42, 123, 246], "labelExpr": "datum.value < 80 ? 'YRI' : datum.value < 200 ? 'CEU' : 'CHB'", "domain": false, "ticks": false, "labelFont": "Liberation Sans", "labelFontSize": 9.5, "labelPadding": 6, "title": null}},
                "x2": {"field": "xb"},
                "y": {"field": "y", "type": "quantitative", "scale": {"domain": [0, 300], "nice": false, "zero": false}, "axis": {"values": [0, 50, 100, 150, 200, 250, 300], "tickSize": 6, "labelPadding": 3, "title": null}}
              }
            },
            {
              "data": {"name": "arrows"},
              "transform": [{"filter": "datum.panel == 'B' && datum.kind == 'grey'"}],
              "mark": {"type": "rule", "stroke": "white", "strokeWidth": 1.4},
              "encoding": {
                "x": {"field": "xa", "type": "quantitative", "scale": {"domain": [0, 300], "nice": false, "zero": false}, "axis": {"values": [42, 123, 246], "labelExpr": "datum.value < 80 ? 'YRI' : datum.value < 200 ? 'CEU' : 'CHB'", "domain": false, "ticks": false, "labelFont": "Liberation Sans", "labelFontSize": 9.5, "labelPadding": 6, "title": null}},
                "x2": {"field": "xb"},
                "y": {"field": "y", "type": "quantitative", "scale": {"domain": [0, 300], "nice": false, "zero": false}, "axis": {"values": [0, 50, 100, 150, 200, 250, 300], "tickSize": 6, "labelPadding": 3, "title": null}}
              }
            },
            {
              "data": {"name": "arrows"},
              "transform": [{"filter": "datum.panel == 'B' && datum.kind == 'black'"}],
              "mark": {"type": "rule", "stroke": "black", "strokeWidth": 2.5, "strokeDash": [7, 4]},
              "encoding": {
                "x": {"field": "xa", "type": "quantitative", "scale": {"domain": [0, 300], "nice": false, "zero": false}, "axis": {"values": [42, 123, 246], "labelExpr": "datum.value < 80 ? 'YRI' : datum.value < 200 ? 'CEU' : 'CHB'", "domain": false, "ticks": false, "labelFont": "Liberation Sans", "labelFontSize": 9.5, "labelPadding": 6, "title": null}},
                "x2": {"field": "xb"},
                "y": {"field": "y", "type": "quantitative", "scale": {"domain": [0, 300], "nice": false, "zero": false}, "axis": {"values": [0, 50, 100, 150, 200, 250, 300], "tickSize": 6, "labelPadding": 3, "title": null}}
              }
            },
            {
              "data": {"name": "arrows"},
              "transform": [{"filter": "datum.panel == 'B' && datum.kind == 'solid'"}],
              "mark": {"type": "rule", "stroke": "black", "strokeWidth": 1.2},
              "encoding": {
                "x": {"field": "xa", "type": "quantitative", "scale": {"domain": [0, 300], "nice": false, "zero": false}, "axis": {"values": [42, 123, 246], "labelExpr": "datum.value < 80 ? 'YRI' : datum.value < 200 ? 'CEU' : 'CHB'", "domain": false, "ticks": false, "labelFont": "Liberation Sans", "labelFontSize": 9.5, "labelPadding": 6, "title": null}},
                "x2": {"field": "xb"},
                "y": {"field": "y", "type": "quantitative", "scale": {"domain": [0, 300], "nice": false, "zero": false}, "axis": {"values": [0, 50, 100, 150, 200, 250, 300], "tickSize": 6, "labelPadding": 3, "title": null}}
              }
            },
            {
              "data": {"name": "heads"},
              "transform": [{"filter": "datum.panel == 'B' && datum.kind == 'black'"}],
              "mark": {"type": "point", "filled": true, "fill": "black", "size": 55, "opacity": 1},
              "encoding": {
                "x": {"field": "x", "type": "quantitative", "scale": {"domain": [0, 300], "nice": false, "zero": false}, "axis": {"values": [42, 123, 246], "labelExpr": "datum.value < 80 ? 'YRI' : datum.value < 200 ? 'CEU' : 'CHB'", "domain": false, "ticks": false, "labelFont": "Liberation Sans", "labelFontSize": 9.5, "labelPadding": 6, "title": null}},
                "y": {"field": "y", "type": "quantitative", "scale": {"domain": [0, 300], "nice": false, "zero": false}, "axis": {"values": [0, 50, 100, 150, 200, 250, 300], "tickSize": 6, "labelPadding": 3, "title": null}},
                "shape": {"field": "dir", "type": "nominal", "scale": {"domain": ["left", "right"], "range": ["triangle-left", "triangle-right"]}, "legend": null}
              }
            },
            {
              "data": {"name": "heads"},
              "transform": [{"filter": "datum.panel == 'B' && datum.kind == 'solid'"}],
              "mark": {"type": "point", "filled": true, "fill": "black", "size": 35, "opacity": 1},
              "encoding": {
                "x": {"field": "x", "type": "quantitative", "scale": {"domain": [0, 300], "nice": false, "zero": false}, "axis": {"values": [42, 123, 246], "labelExpr": "datum.value < 80 ? 'YRI' : datum.value < 200 ? 'CEU' : 'CHB'", "domain": false, "ticks": false, "labelFont": "Liberation Sans", "labelFontSize": 9.5, "labelPadding": 6, "title": null}},
                "y": {"field": "y", "type": "quantitative", "scale": {"domain": [0, 300], "nice": false, "zero": false}, "axis": {"values": [0, 50, 100, 150, 200, 250, 300], "tickSize": 6, "labelPadding": 3, "title": null}},
                "shape": {"field": "dir", "type": "nominal", "scale": {"domain": ["left", "right"], "range": ["triangle-left", "triangle-right"]}, "legend": null}
              }
            },
            {
              "data": {"name": "heads"},
              "transform": [{"filter": "datum.panel == 'B' && datum.kind == 'grey'"}],
              "mark": {"type": "point", "filled": true, "fill": "white", "stroke": "#999999", "strokeWidth": 0.8, "size": 35, "opacity": 1},
              "encoding": {
                "x": {"field": "x", "type": "quantitative", "scale": {"domain": [0, 300], "nice": false, "zero": false}, "axis": {"values": [42, 123, 246], "labelExpr": "datum.value < 80 ? 'YRI' : datum.value < 200 ? 'CEU' : 'CHB'", "domain": false, "ticks": false, "labelFont": "Liberation Sans", "labelFontSize": 9.5, "labelPadding": 6, "title": null}},
                "y": {"field": "y", "type": "quantitative", "scale": {"domain": [0, 300], "nice": false, "zero": false}, "axis": {"values": [0, 50, 100, 150, 200, 250, 300], "tickSize": 6, "labelPadding": 3, "title": null}},
                "shape": {"field": "dir", "type": "nominal", "scale": {"domain": ["left", "right"], "range": ["triangle-left", "triangle-right"]}, "legend": null}
              }
            },
            {
              "data": {"name": "notes"},
              "mark": {"type": "text", "font": "Liberation Sans", "fontSize": 12, "color": "black"},
              "encoding": {
                "x": {"field": "x", "type": "quantitative", "scale": {"domain": [0, 300], "nice": false, "zero": false}, "axis": {"values": [42, 123, 246], "labelExpr": "datum.value < 80 ? 'YRI' : datum.value < 200 ? 'CEU' : 'CHB'", "domain": false, "ticks": false, "labelFont": "Liberation Sans", "labelFontSize": 9.5, "labelPadding": 6, "title": null}},
                "y": {"field": "y", "type": "quantitative", "scale": {"domain": [0, 300], "nice": false, "zero": false}, "axis": {"values": [0, 50, 100, 150, 200, 250, 300], "tickSize": 6, "labelPadding": 3, "title": null}},
                "text": {"field": "text"}
              }
            }
          ]
        }
      ],
      "spacing": 16,
      "resolve": {"scale": {"shape": "independent"}}
    },
    {
      "vconcat": [
        {
          "hconcat": [
            {
              "width": 296, "height": 165,
              "title": {"text": "C", "dx": -65, "offset": -7},
              "data": {"name": "sfs"},
              "mark": {"type": "line", "strokeWidth": 1.5},
              "encoding": {
                "x": {"field": "f", "type": "quantitative", "scale": {"domain": [-3.9, 103.9], "nice": false, "zero": false}, "axis": {"values": [0, 20, 40, 60, 80, 100], "title": "Allele frequency", "tickSize": 4, "labelPadding": 3, "titlePadding": 5}},
                "y": {"field": "c", "type": "quantitative", "scale": {"type": "log", "domain": [0.0087, 2.4], "nice": false}, "axis": {"values": [0.009, 0.01, 0.02, 0.03, 0.04, 0.05, 0.06, 0.07, 0.08, 0.09, 0.1, 0.2, 0.3, 0.4, 0.5, 0.6, 0.7, 0.8, 0.9, 1, 2], "labelExpr": "datum.value == 1 ? '10⁰' : datum.value == 0.1 ? '10⁻¹' : datum.value == 0.01 ? '10⁻²' : ''", "tickSize": {"condition": {"test": "abs(log(datum.value)/LN10 - round(log(datum.value)/LN10)) < 0.001", "value": 4}, "value": 2}, "labelPadding": 8, "title": "Count (with θ = 1)", "titlePadding": 10}},
                "color": {"field": "s", "type": "nominal", "title": null, "scale": {"domain": ["YRI (model A)", "YRI (model B)", "CEU (A)", "CEU (B)"], "range": ["#c1272d", "#c1272d", "#4a70b5", "#4a70b5"]}, "legend": {"orient": "none", "legendX": 199, "legendY": 1}},
                "strokeDash": {"field": "s", "type": "nominal", "title": null, "scale": {"domain": ["YRI (model A)", "YRI (model B)", "CEU (A)", "CEU (B)"], "range": [[1, 0], [5, 3], [1, 0], [5, 3]]}}
              }
            },
            {
              "width": 296, "height": 165,
              "title": {"text": "D", "dx": -30, "offset": -7},
              "data": {"name": "ld"},
              "mark": {"type": "line", "strokeWidth": 1.5, "interpolate": "monotone"},
              "encoding": {
                "x": {"field": "cm", "type": "quantitative", "scale": {"type": "log", "domain": [0.0000708, 0.1413], "nice": false}, "axis": {"values": [0.00008, 0.00009, 0.0001, 0.0002, 0.0003, 0.0004, 0.0005, 0.0006, 0.0007, 0.0008, 0.0009, 0.001, 0.002, 0.003, 0.004, 0.005, 0.006, 0.007, 0.008, 0.009, 0.01, 0.02, 0.03, 0.04, 0.05, 0.06, 0.07, 0.08, 0.09, 0.1], "labelExpr": "datum.value == 0.0001 ? '10⁻⁴' : datum.value == 0.001 ? '10⁻³' : datum.value == 0.01 ? '10⁻²' : datum.value == 0.1 ? '10⁻¹' : ''", "tickSize": {"condition": {"test": "abs(log(datum.value)/LN10 - round(log(datum.value)/LN10)) < 0.001", "value": 4}, "value": 2}, "labelPadding": 3, "title": "cM", "titlePadding": 5}},
                "y": {"field": "d", "type": "quantitative", "scale": {"type": "log", "domain": [0.0055, 0.19], "nice": false}, "axis": {"values": [0.006, 0.007, 0.008, 0.009, 0.01, 0.02, 0.03, 0.04, 0.05, 0.06, 0.07, 0.08, 0.09, 0.1], "labelExpr": "datum.value == 0.1 ? '10⁻¹' : datum.value == 0.01 ? '10⁻²' : ''", "tickSize": {"condition": {"test": "abs(log(datum.value)/LN10 - round(log(datum.value)/LN10)) < 0.001", "value": 4}, "value": 2}, "labelPadding": 8, "title": "E[D²]", "titleFont": "Liberation Serif", "titleFontStyle": "italic", "titlePadding": 20}},
                "color": {"field": "s", "type": "nominal", "title": null, "scale": {"domain": ["YRI (A)", "YRI (B)", "CHB (A)", "CHB (B)"], "range": ["#c1272d", "#c1272d", "#5b3c96", "#5b3c96"]}, "legend": {"orient": "none", "legendX": 219, "legendY": 1}},
                "strokeDash": {"field": "s", "type": "nominal", "title": null, "scale": {"domain": ["YRI (A)", "YRI (B)", "CHB (A)", "CHB (B)"], "range": [[1, 0], [5, 3], [1, 0], [5, 3]]}}
              }
            }
          ],
          "spacing": 10,
          "resolve": {"scale": {"color": "independent", "strokeDash": "independent"}}
        },
        {
          "hconcat": [
            {
              "width": 174, "height": 166,
              "title": {"text": "E", "dx": -66, "offset": 5},
              "data": {"name": "icr"},
              "transform": [{"filter": "datum.p == 'E'"}],
              "mark": {"type": "line"},
              "encoding": {
                "x": {"field": "t", "type": "quantitative", "scale": {"type": "log", "domain": [5000, 1000000], "nice": false}, "axis": {"values": [5000, 6000, 7000, 8000, 9000, 10000, 20000, 30000, 40000, 50000, 60000, 70000, 80000, 90000, 100000, 200000, 300000, 400000, 500000, 600000, 700000, 800000, 900000, 1000000], "labelExpr": "datum.value == 10000 ? '10⁴' : datum.value == 100000 ? '10⁵' : datum.value == 1000000 ? '10⁶' : ''", "tickSize": {"condition": {"test": "abs(log(datum.value)/LN10 - round(log(datum.value)/LN10)) < 0.001", "value": 4}, "value": 2}, "labelPadding": 0, "title": "Time in past (years)", "titlePadding": 5}},
                "y": {"field": "v", "type": "quantitative", "scale": {"domain": [0, 20000], "nice": false, "zero": false}, "axis": {"values": [0, 2500, 5000, 7500, 10000, 12500, 15000, 17500, 20000], "format": "d", "tickSize": 4, "labelPadding": 5, "title": "Inverse coalalescence rate", "titlePadding": 11}},
                "order": {"field": "i"},
                "color": {"field": "s", "type": "nominal", "title": null, "scale": {"domain": ["YRI size", "Model A", "Model B"], "range": ["#8c8c8c", "#c1272d", "#c1272d"]}, "legend": {"orient": "none", "legendX": 8, "legendY": 111}},
                "strokeDash": {"field": "s", "type": "nominal", "title": null, "scale": {"domain": ["YRI size", "Model A", "Model B"], "range": [[2, 2.6], [1, 0], [5, 3]]}},
                "strokeWidth": {"field": "s", "type": "nominal", "title": null, "scale": {"type": "ordinal", "domain": ["YRI size", "Model A", "Model B"], "range": [2.5, 1.5, 1.5]}}
              }
            },
            {
              "width": 172, "height": 166,
              "title": {"text": "F", "dx": -55, "offset": 5},
              "data": {"name": "icr"},
              "transform": [{"filter": "datum.p == 'F'"}],
              "mark": {"type": "line"},
              "encoding": {
                "x": {"field": "t", "type": "quantitative", "scale": {"type": "log", "domain": [5000, 1000000], "nice": false}, "axis": {"values": [5000, 6000, 7000, 8000, 9000, 10000, 20000, 30000, 40000, 50000, 60000, 70000, 80000, 90000, 100000, 200000, 300000, 400000, 500000, 600000, 700000, 800000, 900000, 1000000], "labelExpr": "datum.value == 10000 ? '10⁴' : datum.value == 100000 ? '10⁵' : datum.value == 1000000 ? '10⁶' : ''", "tickSize": {"condition": {"test": "abs(log(datum.value)/LN10 - round(log(datum.value)/LN10)) < 0.001", "value": 4}, "value": 2}, "labelPadding": 0, "title": "Time in past (years)", "titlePadding": 5}},
                "y": {"field": "v", "type": "quantitative", "scale": {"domain": [0, 20000], "nice": false, "zero": false}, "axis": {"values": [0, 2500, 5000, 7500, 10000, 12500, 15000, 17500, 20000], "format": "d", "tickSize": 4, "labelPadding": 5, "title": null}},
                "order": {"field": "i"},
                "color": {"field": "s", "type": "nominal", "title": null, "scale": {"domain": ["CEU size", "Model A", "Model B"], "range": ["#8c8c8c", "#4a70b5", "#4a70b5"]}, "legend": {"orient": "none", "legendX": 8, "legendY": 0}},
                "strokeDash": {"field": "s", "type": "nominal", "title": null, "scale": {"domain": ["CEU size", "Model A", "Model B"], "range": [[2, 2.6], [1, 0], [5, 3]]}},
                "strokeWidth": {"field": "s", "type": "nominal", "title": null, "scale": {"type": "ordinal", "domain": ["CEU size", "Model A", "Model B"], "range": [2.5, 1.5, 1.5]}}
              }
            },
            {
              "width": 172, "height": 166,
              "title": {"text": "G", "dx": -54, "offset": 5},
              "data": {"name": "icr"},
              "transform": [{"filter": "datum.p == 'G'"}],
              "mark": {"type": "line"},
              "encoding": {
                "x": {"field": "t", "type": "quantitative", "scale": {"type": "log", "domain": [5000, 1000000], "nice": false}, "axis": {"values": [5000, 6000, 7000, 8000, 9000, 10000, 20000, 30000, 40000, 50000, 60000, 70000, 80000, 90000, 100000, 200000, 300000, 400000, 500000, 600000, 700000, 800000, 900000, 1000000], "labelExpr": "datum.value == 10000 ? '10⁴' : datum.value == 100000 ? '10⁵' : datum.value == 1000000 ? '10⁶' : ''", "tickSize": {"condition": {"test": "abs(log(datum.value)/LN10 - round(log(datum.value)/LN10)) < 0.001", "value": 4}, "value": 2}, "labelPadding": 0, "title": "Time in past (years)", "titlePadding": 5}},
                "y": {"field": "v", "type": "quantitative", "scale": {"domain": [0, 20000], "nice": false, "zero": false}, "axis": {"values": [0, 2500, 5000, 7500, 10000, 12500, 15000, 17500, 20000], "format": "d", "tickSize": 4, "labelPadding": 5, "title": null}},
                "order": {"field": "i"},
                "color": {"field": "s", "type": "nominal", "title": null, "scale": {"domain": ["CHB size", "Model A", "Model B"], "range": ["#8c8c8c", "#5b3c96", "#5b3c96"]}, "legend": {"orient": "none", "legendX": 9, "legendY": 0}},
                "strokeDash": {"field": "s", "type": "nominal", "title": null, "scale": {"domain": ["CHB size", "Model A", "Model B"], "range": [[2, 2.6], [1, 0], [5, 3]]}},
                "strokeWidth": {"field": "s", "type": "nominal", "title": null, "scale": {"type": "ordinal", "domain": ["CHB size", "Model A", "Model B"], "range": [2.5, 1.5, 1.5]}}
              }
            }
          ],
          "spacing": 10,
          "resolve": {"scale": {"color": "independent", "strokeDash": "independent", "strokeWidth": "independent"}}
        }
      ],
      "spacing": 8,
      "resolve": {"scale": {"color": "independent", "strokeDash": "independent", "strokeWidth": "independent"}}
    }
  ]
}
